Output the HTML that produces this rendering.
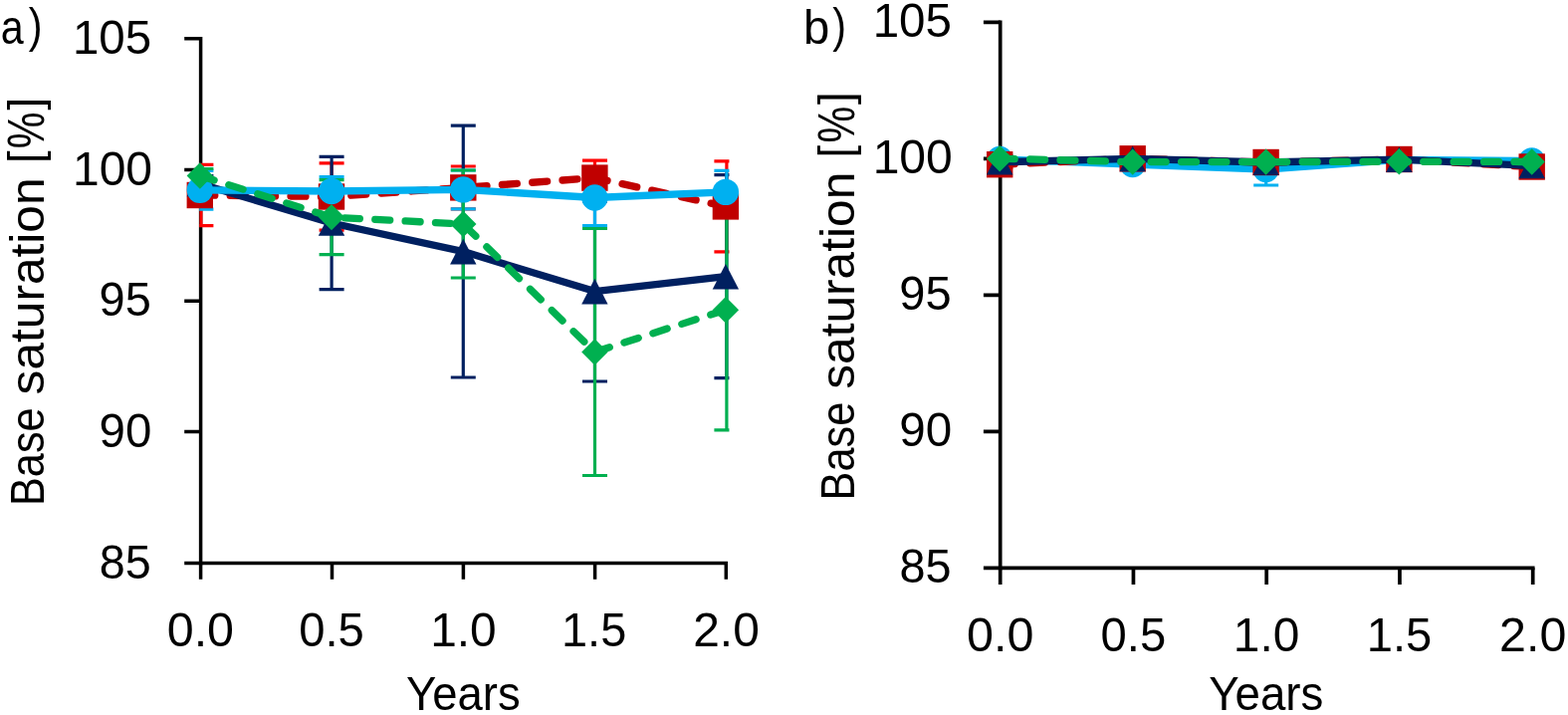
<!DOCTYPE html>
<html lang="en">
<head>
<meta charset="utf-8">
<title>Base saturation over years</title>
<style>
html,body{margin:0;padding:0;background:#fff;}
body{width:1575px;height:718px;overflow:hidden;}
svg{display:block;}
</style>
</head>
<body>
<svg width="1575" height="718" viewBox="0 0 1575 718">
<rect width="1575" height="718" fill="#fff"/>
<clipPath id="ca"><rect x="200.2" y="38.7" width="532.25" height="526.7"/></clipPath>
<g stroke="#000" stroke-width="3.5" fill="none" stroke-linecap="butt">
<path d="M201.6 36.95V567.15"/>
<path d="M185.2 565.4H731.05"/>
<path d="M185.2 38.7H201.6M185.2 170.5H201.6M185.2 302.2H201.6M185.2 433.6H201.6M201.6 565.4V581.8M333.5 565.4V581.8M465.4 565.4V581.8M597.6 565.4V581.8M729.3 565.4V581.8"/>
</g>
<g clip-path="url(#ca)" fill="none" stroke-width="3.2">
<path d="M201.9 165.3V226.7M189.4 165.3H214.4M189.4 226.7H214.4M333.1 163.8V231.2M320.6 163.8H345.6M320.6 231.2H345.6M465.3 167V209.8M452.8 167H477.8M452.8 209.8H477.8M597.5 161.2V196M585 161.2H610M585 196H610M729.9 161.9V252.9M717.4 161.9H742.4M717.4 252.9H742.4" stroke="#FF0000"/>
<path d="M201.9 176.5V192.5M189.4 176.5H214.4M189.4 192.5H214.4M333.1 157.3V290.7M320.6 157.3H345.6M320.6 290.7H345.6M465.3 126.2V379M452.8 126.2H477.8M452.8 379H477.8M597.5 202.2V383M585 202.2H610M585 383H610M729.9 175.7V379.7M717.4 175.7H742.4M717.4 379.7H742.4" stroke="#002060"/>
<path d="M201.9 171.4V210.2M189.4 171.4H214.4M189.4 210.2H214.4M333.1 177.6V206.4M320.6 177.6H345.6M320.6 206.4H345.6M465.3 171V209.8M452.8 171H477.8M452.8 209.8H477.8M597.5 170.5V226.5M585 170.5H610M585 226.5H610M729.9 171.3V214.5M717.4 171.3H742.4M717.4 214.5H742.4" stroke="#00B0F0"/>
<path d="M201.9 169.5V183.5M189.4 169.5H214.4M189.4 183.5H214.4M333.1 180.6V255.6M320.6 180.6H345.6M320.6 255.6H345.6M465.3 171V279M452.8 171H477.8M452.8 279H477.8M597.5 229.5V477.5M585 229.5H610M585 477.5H610M729.9 190.5V431.9M717.4 190.5H742.4M717.4 431.9H742.4" stroke="#00B050"/>
</g>
<polyline points="200.8,196 333,197.5 465.3,188.4 597.4,178.6 728.9,207.4" fill="none" stroke="#C00000" stroke-width="7.3" stroke-linecap="round" stroke-linejoin="round" stroke-dasharray="15.0 15.4"/>
<rect x="187.6" y="182.8" width="26.4" height="26.4" fill="#C00000"/>
<rect x="319.8" y="184.3" width="26.4" height="26.4" fill="#C00000"/>
<rect x="452.1" y="175.2" width="26.4" height="26.4" fill="#C00000"/>
<rect x="584.2" y="165.4" width="26.4" height="26.4" fill="#C00000"/>
<rect x="715.7" y="194.2" width="26.4" height="26.4" fill="#C00000"/>
<polyline points="200.8,184.5 333,224 465.3,252.6 597.4,292.6 728.9,277.7" fill="none" stroke="#002060" stroke-width="7.3" stroke-linecap="round" stroke-linejoin="round"/>
<polygon points="200.8,171.7 214,197.3 187.6,197.3" fill="#002060"/>
<polygon points="333,211.2 346.2,236.8 319.8,236.8" fill="#002060"/>
<polygon points="465.3,239.8 478.5,265.4 452.1,265.4" fill="#002060"/>
<polygon points="597.4,279.8 610.6,305.4 584.2,305.4" fill="#002060"/>
<polygon points="728.9,264.9 742.1,290.5 715.7,290.5" fill="#002060"/>
<polyline points="200.8,190.8 333,192 465.3,190.4 597.4,198.5 728.9,192.9" fill="none" stroke="#00B0F0" stroke-width="7.3" stroke-linecap="round" stroke-linejoin="round"/>
<circle cx="200.8" cy="190.8" r="13.2" fill="#00B0F0"/>
<circle cx="333" cy="192" r="13.2" fill="#00B0F0"/>
<circle cx="465.3" cy="190.4" r="13.2" fill="#00B0F0"/>
<circle cx="597.4" cy="198.5" r="13.2" fill="#00B0F0"/>
<circle cx="728.9" cy="192.9" r="13.2" fill="#00B0F0"/>
<polyline points="200.8,176.5 333,218.1 465.3,225 597.4,353.5 728.9,311.2" fill="none" stroke="#00B050" stroke-width="7.3" stroke-linecap="round" stroke-linejoin="round" stroke-dasharray="15.0 15.4"/>
<polygon points="200.8,163.3 214,176.5 200.8,189.7 187.6,176.5" fill="#00B050"/>
<polygon points="333,204.9 346.2,218.1 333,231.3 319.8,218.1" fill="#00B050"/>
<polygon points="465.3,211.8 478.5,225 465.3,238.2 452.1,225" fill="#00B050"/>
<polygon points="597.4,340.3 610.6,353.5 597.4,366.7 584.2,353.5" fill="#00B050"/>
<polygon points="728.9,298 742.1,311.2 728.9,324.4 715.7,311.2" fill="#00B050"/>
<clipPath id="cb"><rect x="1003.3" y="22.4" width="539.65" height="547.9"/></clipPath>
<g stroke="#000" stroke-width="3.7" fill="none" stroke-linecap="butt">
<path d="M1004.7 20.55V572.15"/>
<path d="M987.9 570.3H1541.55"/>
<path d="M987.9 22.4H1004.7M987.9 159.4H1004.7M987.9 296.3H1004.7M987.9 433.3H1004.7M1004.7 570.3V587.1M1138.45 570.3V587.1M1272.2 570.3V587.1M1405.95 570.3V587.1M1539.7 570.3V587.1"/>
</g>
<g clip-path="url(#cb)" fill="none" stroke-width="3.2">
<path d="M1004.9 157V163M992.4 157H1017.4M992.4 163H1017.4M1137.9 162V168M1125.4 162H1150.4M1125.4 168H1150.4M1271.7 154V186M1259.2 154H1284.2M1259.2 186H1284.2M1405.5 157.3V163.3M1393 157.3H1418M1393 163.3H1418M1539.6 158.4V164.4M1527.1 158.4H1552.1M1527.1 164.4H1552.1" stroke="#00B0F0"/>
<path d="M1004.9 162.2V168.2M992.4 162.2H1017.4M992.4 168.2H1017.4M1137.9 156.3V162.3M1125.4 156.3H1150.4M1125.4 162.3H1150.4M1271.7 160V166M1259.2 160H1284.2M1259.2 166H1284.2M1405.5 157V163M1393 157H1418M1393 163H1418M1539.6 164.5V170.5M1527.1 164.5H1552.1M1527.1 170.5H1552.1" stroke="#FF0000"/>
<path d="M1004.9 159.8V165.8M992.4 159.8H1017.4M992.4 165.8H1017.4M1137.9 156.4V162.4M1125.4 156.4H1150.4M1125.4 162.4H1150.4M1271.7 160V166M1259.2 160H1284.2M1259.2 166H1284.2M1405.5 157.2V163.2M1393 157.2H1418M1393 163.2H1418M1539.6 163.5V169.5M1527.1 163.5H1552.1M1527.1 169.5H1552.1" stroke="#002060"/>
<path d="M1004.9 156.2V162.2M992.4 156.2H1017.4M992.4 162.2H1017.4M1137.9 159.6V165.6M1125.4 159.6H1150.4M1125.4 165.6H1150.4M1271.7 159.6V165.6M1259.2 159.6H1284.2M1259.2 165.6H1284.2M1405.5 159.3V165.3M1393 159.3H1418M1393 165.3H1418M1539.6 159.5V165.5M1527.1 159.5H1552.1M1527.1 165.5H1552.1" stroke="#00B050"/>
</g>
<polyline points="1004.2,160 1137.7,165 1271.6,170 1405.4,160.3 1538.7,161.4" fill="none" stroke="#00B0F0" stroke-width="7.3" stroke-linecap="round" stroke-linejoin="round"/>
<circle cx="1004.2" cy="160" r="13.2" fill="#00B0F0"/>
<circle cx="1137.7" cy="165" r="13.2" fill="#00B0F0"/>
<circle cx="1271.6" cy="170" r="13.2" fill="#00B0F0"/>
<circle cx="1405.4" cy="160.3" r="13.2" fill="#00B0F0"/>
<circle cx="1538.7" cy="161.4" r="13.2" fill="#00B0F0"/>
<polyline points="1004.2,165.2 1137.7,159.3 1271.6,163 1405.4,160 1538.7,167.5" fill="none" stroke="#C00000" stroke-width="7.3" stroke-linecap="round" stroke-linejoin="round" stroke-dasharray="15.0 15.4"/>
<rect x="991" y="152" width="26.4" height="26.4" fill="#C00000"/>
<rect x="1124.5" y="146.1" width="26.4" height="26.4" fill="#C00000"/>
<rect x="1258.4" y="149.8" width="26.4" height="26.4" fill="#C00000"/>
<rect x="1392.2" y="146.8" width="26.4" height="26.4" fill="#C00000"/>
<rect x="1525.5" y="154.3" width="26.4" height="26.4" fill="#C00000"/>
<polyline points="1004.2,162.8 1137.7,159.4 1271.6,163 1405.4,160.2 1538.7,166.5" fill="none" stroke="#002060" stroke-width="7.3" stroke-linecap="round" stroke-linejoin="round"/>
<polygon points="1004.2,150 1017.4,175.6 991,175.6" fill="#002060"/>
<polygon points="1137.7,146.6 1150.9,172.2 1124.5,172.2" fill="#002060"/>
<polygon points="1271.6,150.2 1284.8,175.8 1258.4,175.8" fill="#002060"/>
<polygon points="1405.4,147.4 1418.6,173 1392.2,173" fill="#002060"/>
<polygon points="1538.7,153.7 1551.9,179.3 1525.5,179.3" fill="#002060"/>
<polyline points="1004.2,159.2 1137.7,162.6 1271.6,162.6 1405.4,162.3 1538.7,162.5" fill="none" stroke="#00B050" stroke-width="7.3" stroke-linecap="round" stroke-linejoin="round" stroke-dasharray="15.0 15.4"/>
<polygon points="1004.2,146 1017.4,159.2 1004.2,172.4 991,159.2" fill="#00B050"/>
<polygon points="1137.7,149.4 1150.9,162.6 1137.7,175.8 1124.5,162.6" fill="#00B050"/>
<polygon points="1271.6,149.4 1284.8,162.6 1271.6,175.8 1258.4,162.6" fill="#00B050"/>
<polygon points="1405.4,149.1 1418.6,162.3 1405.4,175.5 1392.2,162.3" fill="#00B050"/>
<polygon points="1538.7,149.3 1551.9,162.5 1538.7,175.7 1525.5,162.5" fill="#00B050"/>
<g font-family='"Liberation Sans", "DejaVu Sans", sans-serif' font-size="48" fill="#000">
<text><tspan x="0.64" y="43.6" textLength="22.96" lengthAdjust="spacingAndGlyphs">a</tspan><tspan x="28.65" y="41.92" font-size="48.38" textLength="13.75" lengthAdjust="spacingAndGlyphs">)</tspan></text>
<text><tspan x="72.89" y="54" textLength="79.18" lengthAdjust="spacingAndGlyphs">105</tspan></text>
<text><tspan x="72.95" y="185.8" textLength="80.09" lengthAdjust="spacingAndGlyphs">100</tspan></text>
<text><tspan x="99.6" y="317.2" textLength="52.19" lengthAdjust="spacingAndGlyphs">95</tspan></text>
<text><tspan x="99.58" y="449" textLength="52.79" lengthAdjust="spacingAndGlyphs">90</tspan></text>
<text><tspan x="99.85" y="580.5" textLength="51.93" lengthAdjust="spacingAndGlyphs">85</tspan></text>
<text><tspan x="167.78" y="648.6" textLength="67.26" lengthAdjust="spacingAndGlyphs">0.0</tspan></text>
<text><tspan x="300.23" y="648.6" textLength="65.62" lengthAdjust="spacingAndGlyphs">0.5</tspan></text>
<text><tspan x="432.16" y="648.6" textLength="66.57" lengthAdjust="spacingAndGlyphs">1.0</tspan></text>
<text><tspan x="564.04" y="648.6" textLength="65.2" lengthAdjust="spacingAndGlyphs">1.5</tspan></text>
<text><tspan x="696.2" y="648.6" textLength="66.63" lengthAdjust="spacingAndGlyphs">2.0</tspan></text>
<text><tspan x="408.02" y="713" textLength="114.63" lengthAdjust="spacingAndGlyphs">Years</tspan></text>
<text><tspan x="806.95" y="43.6" textLength="26.27" lengthAdjust="spacingAndGlyphs">b</tspan><tspan x="836.3" y="41.92" font-size="48.38" textLength="13.75" lengthAdjust="spacingAndGlyphs">)</tspan></text>
<text><tspan x="876.69" y="37.3" textLength="79.28" lengthAdjust="spacingAndGlyphs">105</tspan></text>
<text><tspan x="876.64" y="174.4" textLength="80.2" lengthAdjust="spacingAndGlyphs">100</tspan></text>
<text><tspan x="903.3" y="311.3" textLength="52.3" lengthAdjust="spacingAndGlyphs">95</tspan></text>
<text><tspan x="903.27" y="448.3" textLength="52.9" lengthAdjust="spacingAndGlyphs">90</tspan></text>
<text><tspan x="903.55" y="585.3" textLength="52.04" lengthAdjust="spacingAndGlyphs">85</tspan></text>
<text><tspan x="970.98" y="653.5" textLength="67.37" lengthAdjust="spacingAndGlyphs">0.0</tspan></text>
<text><tspan x="1105.53" y="653.5" textLength="65.62" lengthAdjust="spacingAndGlyphs">0.5</tspan></text>
<text><tspan x="1238.86" y="653.5" textLength="66.57" lengthAdjust="spacingAndGlyphs">1.0</tspan></text>
<text><tspan x="1372.72" y="653.5" textLength="65.53" lengthAdjust="spacingAndGlyphs">1.5</tspan></text>
<text><tspan x="1506.08" y="653.5" textLength="67.27" lengthAdjust="spacingAndGlyphs">2.0</tspan></text>
<text><tspan x="1214.31" y="713" textLength="115.04" lengthAdjust="spacingAndGlyphs">Years</tspan></text>
<text transform="rotate(-90)"><tspan x="-508.11" y="43.8" textLength="98.76" lengthAdjust="spacingAndGlyphs">Base</tspan><tspan> </tspan><tspan x="-396.45" y="43.8" textLength="218" lengthAdjust="spacingAndGlyphs">saturation</tspan><tspan> </tspan><tspan x="-164.12" y="40.93" font-size="46.87" textLength="12.64" lengthAdjust="spacingAndGlyphs">[</tspan><tspan x="-149.18" y="43.93" font-size="51.44" textLength="36.71" lengthAdjust="spacingAndGlyphs">%</tspan><tspan x="-110.58" y="40.93" font-size="46.87" textLength="12.78" lengthAdjust="spacingAndGlyphs">]</tspan></text>
<text transform="rotate(-90)"><tspan x="-502.41" y="858" textLength="98.76" lengthAdjust="spacingAndGlyphs">Base</tspan><tspan> </tspan><tspan x="-390.75" y="858" textLength="218" lengthAdjust="spacingAndGlyphs">saturation</tspan><tspan> </tspan><tspan x="-158.42" y="855.13" font-size="46.87" textLength="12.64" lengthAdjust="spacingAndGlyphs">[</tspan><tspan x="-143.48" y="858.13" font-size="51.44" textLength="36.71" lengthAdjust="spacingAndGlyphs">%</tspan><tspan x="-104.88" y="855.13" font-size="46.87" textLength="12.78" lengthAdjust="spacingAndGlyphs">]</tspan></text>
</g>
</svg>
</body>
</html>
